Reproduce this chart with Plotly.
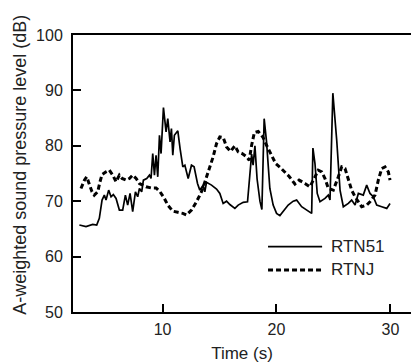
import plotly.graph_objects as go

# RTN51 (solid)
t_rtn51 = [2.70, 3.28, 3.87, 4.22, 4.45, 4.69, 4.89, 5.04, 5.27, 5.48, 5.68, 5.92, 6.21, 6.50, 6.74,
           6.94, 7.15, 7.38, 7.62, 7.82, 7.97, 8.17, 8.32, 8.61, 8.85, 8.99, 9.14, 9.29, 9.43, 9.58,
           9.73, 9.87, 10.08, 10.31, 10.46, 10.66, 10.78, 10.90, 11.04, 11.34, 11.54, 11.78, 11.96,
           12.25, 12.54, 12.77, 13.07, 13.27, 13.56, 13.71, 13.86, 14.30, 14.74, 15.03, 15.32, 15.62,
           15.91, 16.35, 16.64, 17.08, 17.46, 17.67, 17.82, 17.95, 18.11, 18.30, 18.55, 18.72, 18.92,
           19.13, 19.42, 19.71, 20.01, 20.30, 20.59, 21.03, 21.47, 21.77, 22.21, 22.79, 23.09, 23.20,
           23.38, 23.58, 23.82, 24.26, 24.55, 24.70, 24.95, 25.29, 25.58, 25.87, 26.31, 26.60, 26.90,
           27.19, 27.62, 27.92, 28.21, 28.50, 28.80, 29.24, 29.68, 29.97]
v_rtn51 = [65.7, 65.4, 65.8, 65.7, 66.9, 70.2, 71.1, 70.2, 72.0, 70.8, 71.2, 70.5, 68.4, 68.4, 71.1,
           69.3, 71.4, 68.1, 71.7, 70.8, 72.3, 71.7, 73.8, 74.1, 74.7, 74.1, 78.6, 74.7, 78.3, 74.4,
           81.9, 78.6, 86.9, 82.5, 84.9, 80.7, 83.1, 78.3, 81.9, 82.7, 79.5, 76.2, 76.5,
           74.1, 76.5, 76.2, 73.2, 72.0, 72.9, 71.7, 73.4, 72.9, 72.2, 71.4, 69.6, 70.0,
           69.4, 68.7, 69.3, 69.8, 69.9, 76.0, 78.5, 76.5, 80.0, 74.0, 70.0, 68.5, 84.9,
           80.7, 72.3, 69.3, 67.8, 67.4, 68.1, 69.3, 70.0, 70.2, 69.0, 68.1, 67.8, 79.6,
           76.8, 71.4, 69.9, 70.5, 71.1, 70.2, 89.5, 81.0, 72.0, 69.0, 69.6, 70.2, 69.3,
           71.4, 71.1, 72.9, 71.4, 70.8, 69.3, 69.0, 68.7, 69.6]

# RTNJ (dashed)
t_rtnj = [2.84, 3.14, 3.34, 3.57, 3.81, 4.01, 4.31, 4.51, 4.69, 5.04, 5.33, 5.63, 5.92, 6.21, 6.45,
          6.80, 7.09, 7.38, 7.68, 7.97, 8.26, 8.55, 8.99, 9.43, 9.78, 10.16, 10.46, 10.90, 11.34,
          11.78, 12.10, 12.54, 12.98, 13.42, 13.77, 14.06, 14.44, 14.74, 15.03, 15.32, 15.62, 15.97,
          16.35, 16.64, 16.99, 17.38, 17.61, 17.82, 18.06, 18.40, 18.80, 19.13, 19.54, 19.93, 20.37,
          20.74, 21.10, 21.62, 21.99, 22.50, 22.94, 23.38, 23.67, 23.97, 24.26, 24.55, 24.99, 25.43,
          25.73, 26.02, 26.31, 26.60, 26.90, 27.19, 27.48, 27.92, 28.21, 28.65, 28.94, 29.24, 29.53,
          29.82, 29.97]
v_rtnj = [72.3, 73.8, 74.4, 72.9, 71.7, 71.1, 71.7, 73.5, 74.8, 75.3, 75.6, 74.7, 73.5, 74.7, 74.1,
          73.8, 74.1, 74.7, 74.1, 73.2, 72.9, 72.6, 72.4, 72.4, 71.7, 70.5, 69.3, 68.2, 68.0,
          67.8, 67.5, 68.4, 69.9, 71.7, 73.8, 75.6, 78.0, 80.4, 81.6, 81.5, 79.8, 79.0,
          80.0, 78.9, 78.6, 78.0, 77.4, 80.1, 82.4, 82.6, 81.6, 80.1, 78.3, 76.8, 76.0,
          75.3, 74.5, 73.1, 73.8, 73.2, 72.6, 74.4, 75.6, 75.3, 74.1, 72.3, 72.0, 74.4,
          76.2, 75.9, 74.1, 72.0, 70.8, 69.9, 69.0, 69.3, 69.9, 71.1, 73.8, 75.9, 76.2,
          75.3, 73.8]

x_ticks = [10, 20, 30]
y_ticks = [50, 60, 70, 80, 90, 100]
names = ["RTN51", "RTNJ"]
y_title = "A-weighted sound pressure level (dB)"
x_title = "Time (s)"

FONT = "Arial, Liberation Sans, sans-serif"
DASH = "5px,3px"

fig = go.Figure()
fig.add_trace(go.Scatter(x=t_rtn51, y=v_rtn51, mode="lines", name=names[0],
                         line=dict(color="black", width=1.7), showlegend=False))
fig.add_trace(go.Scatter(x=t_rtnj, y=v_rtnj, mode="lines", name=names[1],
                         line=dict(color="black", width=3, dash=DASH), showlegend=False))

# legend drawn manually (longer line samples than plotly's legend)
leg_y = [0.236, 0.152]
for yy, nm, dash, w in zip(leg_y, names, ["solid", DASH], [1.7, 3]):
    fig.add_shape(type="line", xref="paper", yref="paper", x0=0.577, x1=0.737, y0=yy, y1=yy,
                  line=dict(color="black", width=w, dash=dash))
    fig.add_annotation(xref="paper", yref="paper", x=0.757, y=yy, text=nm, showarrow=False,
                       xanchor="left", yanchor="middle", font=dict(family=FONT, size=17, color="#222"))

# y-axis title placed as annotation
fig.add_annotation(xref="paper", yref="paper", x=-0.157, y=0.531, text=y_title, textangle=-90,
                   showarrow=False, xanchor="center", yanchor="middle",
                   font=dict(family=FONT, size=18, color="#222"))

fig.update_layout(
    width=411, height=363,
    margin=dict(l=73, r=0, t=35, b=51),
    paper_bgcolor="white", plot_bgcolor="white",
    font=dict(family=FONT, size=16, color="#222"),
    xaxis=dict(range=[2.14, 31.81], tickvals=x_ticks, ticks="inside", ticklen=8, tickwidth=2,
               tickcolor="black", showline=True, linecolor="black", linewidth=2, mirror=True,
               showgrid=False, zeroline=False, ticklabelstandoff=2,
               title=dict(text=x_title, font=dict(size=17), standoff=10)),
    yaxis=dict(range=[50, 100], tickvals=y_ticks, ticks="inside", ticklen=8, tickwidth=2,
               tickcolor="black", showline=True, linecolor="black", linewidth=2,
               showgrid=False, zeroline=False, ticklabelstandoff=5),
)

fig.write_html("out.html")
